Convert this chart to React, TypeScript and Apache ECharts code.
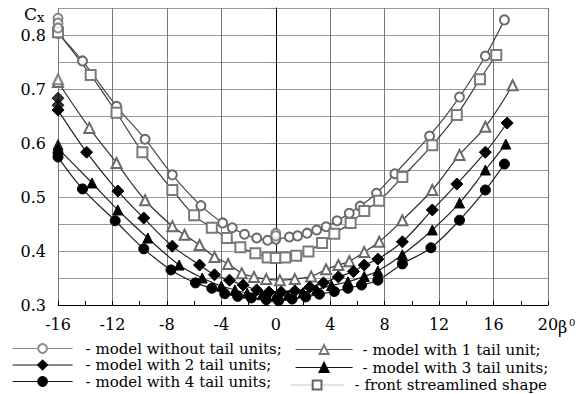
import React, { useEffect, useRef } from "react";
import * as echarts from "echarts";

// β (deg), Cx
const noTail: number[][] = [
  [-16, 0.803], [-14.2, 0.752], [-11.7, 0.668], [-9.6, 0.607], [-7.6, 0.541], [-5.5, 0.484],
  [-3.9, 0.452], [-3.2, 0.443], [-2.3, 0.431], [-1.4, 0.424], [-0.6, 0.42], [0, 0.422],
  [1.0, 0.426], [1.6, 0.428], [2.3, 0.433], [3.0, 0.439], [3.7, 0.445], [4.5, 0.456],
  [5.4, 0.47], [6.2, 0.483], [7.4, 0.507], [8.75, 0.543], [11.3, 0.613], [13.5, 0.685],
  [15.4, 0.761], [16.8, 0.828],
];
const noTailExtra: number[][] = [[-16, 0.831], [-16, 0.822], [-16, 0.813], [0, 0.433], [0, 0.428]];

const oneTail: number[][] = [
  [-16, 0.713], [-13.7, 0.628], [-11.7, 0.563], [-9.6, 0.494], [-7.6, 0.446], [-6.7, 0.43],
  [-5.6, 0.411], [-4.5, 0.389], [-3.5, 0.376], [-2.5, 0.359], [-1.6, 0.352], [-0.7, 0.348],
  [0.3, 0.346], [1.4, 0.348], [2.6, 0.353], [3.7, 0.366], [4.6, 0.374], [5.4, 0.381],
  [6.5, 0.398], [7.6, 0.417], [9.3, 0.457], [11.5, 0.513], [13.5, 0.578], [15.4, 0.63],
  [17.4, 0.707],
];
const oneTailExtra: number[][] = [[-16, 0.718]];

const twoTail: number[][] = [
  [-16, 0.661], [-13.9, 0.583], [-11.6, 0.511], [-9.7, 0.461], [-7.6, 0.409], [-5.6, 0.374],
  [-4.5, 0.356], [-3.4, 0.346], [-2.4, 0.337], [-1.4, 0.328], [-0.5, 0.324], [0.4, 0.324],
  [1.4, 0.326], [2.5, 0.333], [3.5, 0.341], [4.6, 0.352], [5.7, 0.362], [6.5, 0.374],
  [7.5, 0.385], [9.3, 0.417], [11.5, 0.476], [13.3, 0.524], [15.4, 0.583], [17.0, 0.637],
];
const twoTailExtra: number[][] = [[-16, 0.683], [-16, 0.670]];

const threeTail: number[][] = [
  [-16, 0.59], [-13.5, 0.526], [-11.6, 0.476], [-9.4, 0.424], [-7.1, 0.374], [-5.4, 0.35],
  [-4.0, 0.335], [-3.0, 0.328], [-2.1, 0.322], [-1.0, 0.319], [0, 0.316], [0.9, 0.318],
  [2.0, 0.323], [3.0, 0.329], [4.1, 0.336], [5.3, 0.343], [6.5, 0.353], [7.5, 0.363],
  [9.3, 0.393], [11.5, 0.439], [13.5, 0.489], [15.4, 0.55], [16.9, 0.598],
];
const threeTailExtra: number[][] = [[-16, 0.597]];

const fourTail: number[][] = [
  [-16, 0.574], [-14.2, 0.515], [-11.8, 0.456], [-9.7, 0.404], [-7.7, 0.365], [-5.9, 0.341],
  [-4.7, 0.331], [-3.75, 0.321], [-2.8, 0.316], [-1.8, 0.313], [-0.7, 0.31], [0.2, 0.308],
  [1.2, 0.311], [2.2, 0.315], [3.2, 0.32], [4.3, 0.325], [5.3, 0.331], [6.3, 0.337],
  [7.5, 0.346], [9.3, 0.376], [11.4, 0.406], [13.5, 0.457], [15.4, 0.513], [16.8, 0.561],
];
const fourTailExtra: number[][] = [[-16, 0.582]];

const frontShape: number[][] = [
  [-16, 0.805], [-13.6, 0.726], [-11.7, 0.656], [-9.8, 0.583], [-7.6, 0.513], [-6.0, 0.466],
  [-4.7, 0.443], [-3.6, 0.424], [-2.6, 0.407], [-1.5, 0.396], [-0.6, 0.388], [0, 0.387],
  [0.7, 0.388], [1.5, 0.391], [2.4, 0.399], [3.4, 0.415], [4.3, 0.432], [5.5, 0.452],
  [6.5, 0.474], [7.6, 0.493], [9.3, 0.537], [11.5, 0.596], [13.3, 0.652], [15.0, 0.718],
  [16.2, 0.763],
];

const seriesNames = [
  "model without tail units",
  "model with 1 tail unit",
  "model with 2 tail units",
  "model with 3 tail units",
  "model with 4 tail units",
  "front streamlined shape",
];
const legendSuffix = [";", ";", ";", ";", ";", ""];
const yTickLabels = ["0.3", "0.4", "0.5", "0.6", "0.7", "0.8"];

const FONT = "DejaVu Serif";

export default function App() {
  const ref = useRef<HTMLDivElement>(null);
  useEffect(() => {
    if (!ref.current) return;
    const chart = echarts.init(ref.current, undefined, { renderer: "svg" });

    const styles = [
      { symbol: "emptyCircle", size: 9, mark: "#6a6a6a", line: "#4a4a4a", legendLine: "#8a8a8a", legendMark: "#8a8a8a" },
      { symbol: "emptyTriangle", size: 10, mark: "#6a6a6a", line: "#333333", legendLine: "#555555", legendMark: "#777777" },
      { symbol: "diamond", size: 12, mark: "#000000", line: "#222222", legendLine: "#111111", legendMark: "#000000" },
      { symbol: "triangle", size: 10, mark: "#000000", line: "#222222", legendLine: "#111111", legendMark: "#000000" },
      { symbol: "circle", size: 10, mark: "#000000", line: "#222222", legendLine: "#111111", legendMark: "#000000" },
      { symbol: "emptyRect", size: 10, mark: "#7a7a7a", line: "#3a3a3a", legendLine: "#c8c8c8", legendMark: "#666666" },
    ];
    const mains = [noTail, oneTail, twoTail, threeTail, fourTail, frontShape];
    const extras = [noTailExtra, oneTailExtra, twoTailExtra, threeTailExtra, fourTailExtra, []];

    const series: any[] = [];
    mains.forEach((d, i) => {
      const s = styles[i];
      series.push({
        name: seriesNames[i],
        type: "line",
        data: d,
        smooth: 0.35,
        symbol: s.symbol,
        symbolSize: s.size,
        showAllSymbol: true,
        lineStyle: { color: s.line, width: 1.2 },
        itemStyle: { color: s.mark, borderColor: s.mark, borderWidth: 1 },
        z: 3,
      });
      if (extras[i].length) {
        series.push({
          name: "extra " + i,
          type: "scatter",
          data: extras[i],
          symbol: s.symbol,
          symbolSize: s.size,
          itemStyle: { color: s.mark, borderColor: s.mark, borderWidth: 1 },
          z: 4,
        });
      }
    });

    // legend slots: [series index, left, centerY, itemWidth, textGap]
    const slots = [
      [0, 12, 347, 60, 8],
      [2, 12, 363.5, 60, 8],
      [4, 12, 380, 60, 8],
      [1, 295, 348, 57, 5],
      [3, 295, 366, 57, 5],
      [5, 290, 383.5, 53, 6],
    ];
    const legends = slots.map(([i, left, cy, w, gap]) => ({
      orient: "horizontal",
      left,
      top: cy - 6,
      itemWidth: w,
      itemHeight: 11,
      padding: 0,
      selectedMode: false,
      data: [
        {
          name: seriesNames[i],
          lineStyle: { color: styles[i].legendLine, width: 1.2 },
          itemStyle: { color: styles[i].legendMark, borderColor: styles[i].legendMark },
        },
      ],
      formatter: (name: string) => "- " + name + legendSuffix[seriesNames.indexOf(name)],
      textStyle: {
        fontFamily: FONT,
        fontSize: 15,
        color: "#000",
        lineHeight: 12,
        padding: [0, 0, 0, gap],
      },
    }));

    chart.setOption({
      animation: false,
      backgroundColor: "#fff",
      grid: { left: 58, right: 31, top: 8, bottom: 89 },
      xAxis: {
        type: "value",
        min: -16,
        max: 20,
        interval: 4,
        axisLine: { show: true, lineStyle: { color: "#000", width: 1 } },
        axisTick: { show: true, inside: true, length: 4, lineStyle: { color: "#000" } },
        minorTick: { show: true, splitNumber: 2, length: 4, lineStyle: { color: "#000" } },
        splitLine: { show: true, lineStyle: { color: "#777", width: 1 } },
        axisLabel: { fontFamily: FONT, fontSize: 16, color: "#000", margin: 11 },
      },
      yAxis: {
        type: "value",
        min: 0.3,
        max: 0.85,
        interval: 0.05,
        axisLine: { show: true, lineStyle: { color: "#000", width: 1 } },
        axisTick: { show: true, inside: false, length: 6, lineStyle: { color: "#888" } },
        splitLine: { show: true, lineStyle: { color: "#999", width: 1 } },
        axisLabel: {
          fontFamily: FONT,
          fontSize: 16,
          color: "#000",
          margin: 12,
          formatter: (v: number) => {
            const t = v.toFixed(2).replace(/0$/, "");
            return yTickLabels.indexOf(t) >= 0 ? t : "";
          },
        },
      },
      legend: legends,
      graphic: [
        { type: "text", left: 24, top: 5, style: { text: "C", fontFamily: FONT, fontSize: 17, fill: "#000" } },
        { type: "text", left: 37, top: 11, style: { text: "x", fontFamily: FONT, fontSize: 13, fill: "#000" } },
        { type: "text", left: 558, top: 319, style: { text: "β", fontFamily: FONT, fontSize: 16, fill: "#000" } },
        { type: "text", left: 569, top: 317, style: { text: "0", fontFamily: FONT, fontSize: 10, fill: "#000" } },
      ],
      series,
    });
    return () => chart.dispose();
  }, []);
  return <div ref={ref} style={{ width: 579, height: 394, position: "absolute", left: 0, top: 0 }} />;
}
